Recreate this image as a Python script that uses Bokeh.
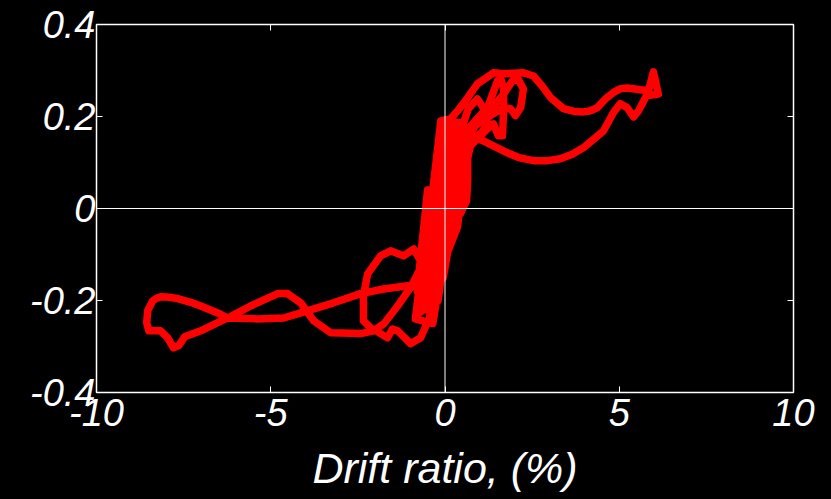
from bokeh.plotting import figure
from bokeh.models import Range1d, FixedTicker, LinearAxis, Span
from bokeh.embed import file_html
from bokeh.resources import INLINE

# ---- data (drift ratio %, normalized force) ----
drift = [
    # small cycles near origin
    -0.01, 0.07, 0.16, 0.07, -0.10, -0.24, -0.33, -0.22, -0.01, 0.19, 0.30, 0.22,
    -0.04, -0.30, -0.47, -0.53, -0.39, -0.13, 0.10, 0.33, 0.44, 0.36, 0.07, -0.22,
    -0.47, -0.65, -0.70, -0.56, -0.30, -0.07, 0.16, 0.39, 0.50, 0.42, 0.13, -0.19,
    -0.47, -0.67, -0.82, -0.65, -0.36, -0.01, 0.22, 0.44, 0.53,
    -0.10, -0.80, -0.60, 0.05, -0.45, 0.25, -0.30, 0.40, -0.15, 0.55,
    -0.55, -0.85, -0.35, 0.30, 0.60, 0.20, -0.10, 0.53,
    -0.12, -0.75, -0.50, -0.80, -0.55, 0.10, -0.40, 0.30, -0.20, 0.50, -0.05,
    0.64, 0.36, 0.05, 0.62, 0.20, 0.53,
    # inner positive loops
    0.67, 0.93, 1.10, 1.22, 1.05, 0.73, 0.50, 0.36, 0.22, -0.04, -0.22, -0.36,
    -0.42, -0.33, -0.13, 0.10, 0.30, 0.50, 0.87, 1.22, 1.51, 1.59, 1.68, 1.68,
    1.65, 1.53, 1.39, 1.16, 0.73, 0.53, 0.39, 0.27, 0.04, -0.13, -0.24, -0.42, -0.56,
    # inner negative loop
    -0.47, -0.70, -0.90, -1.19, -1.56, -1.85, -2.22, -2.34, -2.34, -2.14, -1.85,
    -1.65, -1.51, -1.36, -1.13, -0.99, -0.70, -0.42, -0.30, -0.19, -0.07, 0.10,
    0.30, 0.50,
    # third positive loop
    0.73, 1.30, 1.68, 1.94, 2.08, 2.25, 2.17, 2.02, 1.88, 1.68, 1.30, 0.87, 0.59,
    0.44, 0.30, 0.10, -0.13, -0.36, -0.56,
    # large negative cycle
    -0.70, -1.28, -1.76, -2.42, -3.20, -4.14, -4.63, -5.38, -6.24, -6.52, -7.01,
    -7.30, -7.67, -7.90, -8.16, -8.28, -8.39, -8.53, -8.56, -8.50, -8.36, -8.16,
    -7.96, -7.79, -7.64, -7.47, -7.01, -6.24, -5.58, -4.80, -4.52, -4.14, -3.77,
    -3.28, -2.42, -2.05, -1.76, -1.36, -0.99, -0.70, -0.47, -0.30, -0.19, -0.13,
    -0.13, -0.13, -0.10,
    # large positive cycle
    0.16, 0.36, 0.65, 0.93, 1.39, 1.68, 2.25, 2.54, 2.80, 3.03, 3.40, 3.70, 3.97,
    4.15, 4.37, 4.60, 4.83, 5.02, 5.23, 5.61, 5.84, 5.98, 6.12, 5.78, 5.55, 5.41,
    5.23, 5.03, 4.83, 4.55, 3.97, 3.65, 3.31, 2.95, 2.54, 2.15, 1.79, 1.10, 0.73,
    0.65, 0.65, 0.62, 0.44, 0.22, 0.07,
]
force = [
    0.002, 0.038, 0.078, 0.060, -0.016, -0.070, -0.096, -0.081, 0.006, 0.082, 0.115, 0.104,
    0.006, -0.092, -0.140, -0.157, -0.146, -0.048, 0.038, 0.125, 0.158, 0.147, 0.049, -0.070,
    -0.157, -0.196, -0.212, -0.205, -0.118, -0.016, 0.071, 0.147, 0.173, 0.158, 0.060, -0.062,
    -0.168, -0.214, -0.229, -0.201, -0.125, 0.006, 0.093, 0.169, 0.186,
    0.180, -0.230, -0.220, 0.190, -0.210, 0.170, -0.200, 0.160, -0.170, 0.160,
    -0.050, -0.240, -0.250, 0.050, 0.100, -0.020, -0.100, 0.186,
    0.190, -0.220, 0.040, -0.180, -0.200, 0.190, -0.220, 0.180, -0.200, 0.170, -0.150,
    0.150, -0.040, -0.100, 0.120, -0.060, 0.186,
    0.217, 0.238, 0.219, 0.184, 0.165, 0.147, 0.093, 0.028, -0.038, -0.114, -0.168, -0.201,
    -0.194, -0.135, -0.059, 0.038, 0.125, 0.158, 0.191, 0.219, 0.278, 0.284, 0.262, 0.212,
    0.158, 0.158, 0.184, 0.169, 0.136, 0.071, -0.005, -0.044, -0.103, -0.157, -0.201, -0.233, -0.201,
    -0.157, -0.114, -0.088, -0.103, -0.092, -0.103, -0.142, -0.190, -0.244, -0.259, -0.272,
    -0.281, -0.262, -0.266, -0.283, -0.294, -0.281, -0.233, -0.194, -0.135, -0.070, 0.006,
    0.093, 0.147,
    0.173, 0.212, 0.249, 0.278, 0.284, 0.260, 0.219, 0.202, 0.217, 0.219, 0.202, 0.180, 0.147,
    0.082, 0.017, -0.048, -0.118, -0.168, -0.168,
    -0.164, -0.170, -0.175, -0.185, -0.205, -0.227, -0.238, -0.240, -0.238, -0.227, -0.212,
    -0.204, -0.196, -0.193, -0.192, -0.195, -0.201, -0.222, -0.248, -0.266, -0.266, -0.266,
    -0.281, -0.303, -0.298, -0.279, -0.266, -0.238, -0.212, -0.185, -0.185, -0.205, -0.244,
    -0.270, -0.272, -0.266, -0.251, -0.212, -0.172, -0.129, -0.081, -0.031, 0.017, 0.071,
    0.125, 0.180, 0.191,
    0.195, 0.212, 0.241, 0.271, 0.295, 0.293, 0.295, 0.288, 0.265, 0.241, 0.217, 0.211, 0.210,
    0.212, 0.219, 0.238, 0.252, 0.260, 0.262, 0.258, 0.256, 0.297, 0.249, 0.245, 0.212, 0.199,
    0.219, 0.228, 0.208, 0.169, 0.132, 0.118, 0.108, 0.104, 0.104, 0.110, 0.121, 0.147, 0.156,
    0.125, 0.060, 0.017, -0.012, -0.012, 0.002,
]

x_ticks = [-10, -5, 0, 5, 10]
x_tick_labels = ["-10", "-5", "0", "5", "10"]
y_ticks = [-0.4, -0.2, 0, 0.2, 0.4]
y_tick_labels = ["-0.4", "-0.2", "0", "0.2", "0.4"]
x_label = "Drift ratio, (%)"

FONT = "Liberation Sans"

p = figure(width=831, height=499, output_backend="svg", toolbar_location=None,
           x_range=Range1d(-10, 10), y_range=Range1d(-0.4, 0.4),
           min_border_left=96, min_border_right=38, min_border_top=24,
           min_border_bottom=107, x_axis_location=None, y_axis_location=None)
p.background_fill_color = "black"
p.border_fill_color = "black"
p.outline_line_color = "white"
p.outline_line_width = 1.5
p.grid.visible = False


def style_axis(ax, ticks, labels, show_labels):
    ax.ticker = FixedTicker(ticks=ticks)
    ax.major_tick_in = 6
    ax.major_tick_out = 0
    ax.major_tick_line_color = "white"
    ax.minor_tick_line_color = None
    ax.axis_line_color = None
    if show_labels:
        ax.major_label_overrides = {t: l for t, l in zip(ticks, labels)}
        ax.major_label_text_font = FONT
        ax.major_label_text_font_style = "italic"
        ax.major_label_text_font_size = "38px"
        ax.major_label_text_color = "white"
    else:
        ax.major_label_text_color = None
        ax.major_label_text_font_size = "2px"
        ax.major_label_standoff = 0


xb = LinearAxis()
style_axis(xb, x_ticks, x_tick_labels, True)
xb.major_label_standoff = 6
xb.axis_label = x_label
xb.axis_label_text_font = FONT
xb.axis_label_text_font_style = "italic"
xb.axis_label_text_font_size = "43px"
xb.axis_label_text_color = "white"
xb.axis_label_standoff = 15
p.add_layout(xb, "below")

yl = LinearAxis()
style_axis(yl, y_ticks, y_tick_labels, True)
yl.major_label_standoff = 1
yl.major_label_orientation = "horizontal"
p.add_layout(yl, "left")

xt = LinearAxis()
style_axis(xt, x_ticks, x_tick_labels, False)
p.add_layout(xt, "above")

yr = LinearAxis()
style_axis(yr, y_ticks, y_tick_labels, False)
p.add_layout(yr, "right")

p.line(drift, force, line_color="#ff0000", line_width=7.5,
       line_join="round", line_cap="round")

p.add_layout(Span(location=0, dimension="height", line_color="white", line_width=1))
p.add_layout(Span(location=0, dimension="width", line_color="white", line_width=1))

html = file_html(p, INLINE)
html = html.replace("<head>", "<head><style>html,body{background:#000;}</style>", 1)
open("out.html", "w").write(html)
